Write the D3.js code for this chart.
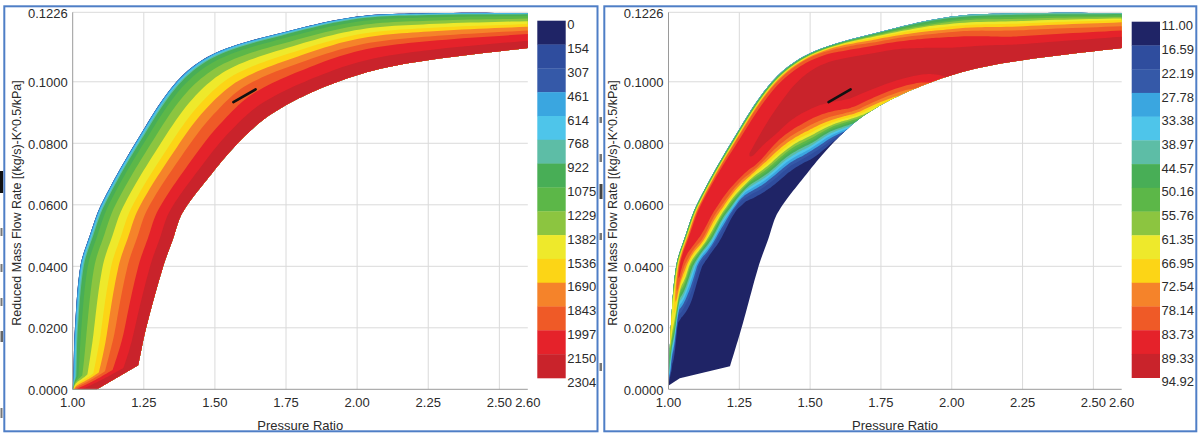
<!DOCTYPE html>
<html>
<head>
<meta charset="utf-8">
<script src="https://cdn.jsdelivr.net/npm/d3@7"></script>
<style>
  body { margin: 0; background: #fff; }
  svg { display: block; font-family: "Liberation Sans", Arial, sans-serif; }
</style>
</head>
<body>
<div id="chart"></div>
<script>
// axis ticks
var prTicks = [1.00, 1.25, 1.50, 1.75, 2.00, 2.25, 2.50, 2.60];
var flowTicks = [0.0000, 0.0200, 0.0400, 0.0600, 0.0800, 0.1000, 0.1226];

// colour scale levels (legend labels)
var speedLevels = [0, 154, 307, 461, 614, 768, 922, 1075, 1229, 1382, 1536, 1690, 1843, 1997, 2150, 2304];
var effLevels = [11.00, 16.59, 22.19, 27.78, 33.38, 38.97, 44.57, 50.16, 55.76, 61.35, 66.95, 72.54, 78.14, 83.73, 89.33, 94.92];
var bandColors = ["#1f2466", "#2f4d9e", "#3559a8", "#3aa6e0", "#4ec5ea", "#5dbda6", "#48ae56", "#5cb748",
                  "#8cc540", "#eee92b", "#fcd516", "#f5832a", "#ef5a27", "#e5222a", "#c9232b"];

// cross sections through the map: surge edge point -> choke edge point
var surgePR   = [1.000, 1.002, 1.008, 1.027, 1.060, 1.100, 1.220, 1.365, 1.500, 1.750, 2.000, 2.250, 2.600];
var surgeFlow = [0.0000, 0.0040, 0.0200, 0.0400, 0.0500, 0.0600, 0.0800, 0.1000, 0.1093, 0.1163, 0.1212, 0.1223, 0.1224];
var chokePR   = [1.085, 1.230, 1.258, 1.318, 1.352, 1.385, 1.470, 1.580, 1.690, 1.850, 2.050, 2.260, 2.600];
var chokeFlow = [0.0000, 0.0078, 0.0200, 0.0400, 0.0488, 0.0573, 0.0680, 0.0800, 0.0890, 0.0970, 0.1035, 0.1072, 0.1110];
// efficiency map is cut a little differently at the bottom
var effBottomSurgePR = [1.000, 1.002];
var effBottomSurgeFlow = [0.0012, 0.0060];
var effBottomChokePR = [1.040, 1.217];
var effBottomChokeFlow = [0.0036, 0.0075];

// position across each section (0 = surge edge, 1 = choke edge)
var sLevels = [0, 0.05, 0.1, 0.2, 0.3, 0.4, 0.5, 0.6, 0.7, 0.8, 0.9, 1.0];

// speed read along each section
var speedGrid = [
  [440, 1650, 1900, 2050, 2130, 2170, 2210, 2240, 2260, 2280, 2290, 2300],
  [440,  950, 1150, 1350, 1520, 1700, 1860, 1990, 2090, 2170, 2230, 2300],
  [440,  980, 1100, 1285, 1424, 1580, 1754, 1879, 1997, 2106, 2208, 2300],
  [440,  980, 1100, 1285, 1424, 1580, 1754, 1879, 1997, 2106, 2208, 2300],
  [440,  980, 1100, 1285, 1424, 1580, 1754, 1879, 1997, 2106, 2208, 2300],
  [440,  980, 1100, 1285, 1424, 1580, 1754, 1879, 1997, 2106, 2208, 2300],
  [440,  980, 1100, 1285, 1424, 1580, 1754, 1879, 1997, 2106, 2208, 2300],
  [440,  980, 1100, 1285, 1424, 1580, 1754, 1879, 1997, 2106, 2208, 2300],
  [440,  980, 1100, 1295, 1450, 1620, 1790, 1920, 2030, 2125, 2215, 2300],
  [440,  980, 1100, 1305, 1475, 1660, 1815, 1960, 2055, 2140, 2222, 2300],
  [440,  980, 1100, 1316, 1502, 1704, 1843, 1997, 2078, 2157, 2230, 2300],
  [440,  980, 1100, 1316, 1502, 1704, 1843, 1997, 2078, 2157, 2230, 2300],
  [440,  980, 1100, 1316, 1502, 1704, 1843, 1997, 2078, 2157, 2230, 2300]
];

// efficiency read along each section
var effGrid = [
  [13, 12, 12, 12, 12, 12, 12, 12, 12, 12, 12, 12],
  [45, 14, 12, 12, 12, 12, 12, 12, 12, 12, 12, 12],
  [70, 55, 14, 12, 12, 12, 12, 12, 12, 12, 12, 12],
  [50, 86, 78, 45, 18, 12, 11.5, 11.5, 11.5, 11.5, 11.5, 11.5],
  [47, 85, 87, 82, 55, 22, 12, 11.5, 11.5, 11.5, 11.5, 11.5],
  [45, 84, 88, 87, 77, 48, 17, 12, 11.5, 11.5, 11.5, 11.5],
  [42, 82, 86, 88.5, 89.5, 87, 72, 52, 30, 17, 12, 11.5],
  [40, 80, 86, 89, 90, 91, 89.5, 85, 76, 60, 35, 14],
  [40, 78, 85, 89.5, 91, 92, 92, 91.5, 90, 87, 78, 58],
  [41, 60, 72, 84, 89, 91, 92, 92, 91, 89, 84, 76],
  [42, 48, 58, 70, 80, 85, 88, 90, 91.5, 92.5, 93, 93],
  [40, 47, 54, 65, 74, 80, 84, 88, 90, 92, 93, 93.5],
  [40, 47, 54, 67, 74.5, 79, 83.7, 87, 89.8, 91.5, 92.5, 93]
];

// operating line marker
var markPR = [1.565, 1.643];
var markFlow = [0.0934, 0.0975];

// scraps of the surrounding page that show at the picture edges: [x, y, w, h, colour]
var edgeMarks = [
  [0, 171, 3.2, 22, "#111"],
  [0.5, 228, 2, 8, "#777"], [0.5, 264, 2, 8, "#777"], [0.5, 298, 2, 8, "#777"],
  [0.5, 331, 2.5, 11, "#666"], [0.5, 408, 2, 10, "#777"],
  [599.5, 117, 2.5, 6, "#777"], [599.5, 154, 2.5, 8, "#777"], [599.5, 184, 3, 15, "#444"],
  [599.5, 233, 2.5, 7, "#777"], [599.5, 363, 2.5, 8, "#777"]
];

var width = 1198, height = 433;
var svg = d3.select("#chart").append("svg")
    .attr("width", width)
    .attr("height", height);

svg.selectAll(".scrap").data(edgeMarks).enter().append("rect")
  .attr("x", function(d) { return d[0]; }).attr("y", function(d) { return d[1]; })
  .attr("width", function(d) { return d[2]; }).attr("height", function(d) { return d[3]; })
  .attr("fill", function(d) { return d[4]; });

var panels = [
  {frame: [4.3, 6.3, 597.5, 431.3], plotX: [72.7, 527.8], cbX: [537.3, 565.7], cbY: [20.7, 378],
   yTitleX: 16.7, grid: speedGrid, levels: speedLevels, fmt: d3.format("d"),
   sPR: surgePR, sFlow: surgeFlow, cPR: chokePR, cFlow: chokeFlow},
  {frame: [604.3, 6.3, 1196.3, 431.3], plotX: [668.5, 1121.7], cbX: [1131.7, 1160], cbY: [21.7, 377.7],
   yTitleX: 612.5, grid: effGrid, levels: effLevels, fmt: d3.format(".2f"),
   sPR: effBottomSurgePR.concat(surgePR.slice(2)), sFlow: effBottomSurgeFlow.concat(surgeFlow.slice(2)),
   cPR: effBottomChokePR.concat(chokePR.slice(2)), cFlow: effBottomChokeFlow.concat(chokeFlow.slice(2))}
];

var FINE = 6; // sub-steps between read values when contouring

function clamp(v, a, b) { return Math.max(a, Math.min(b, v)); }

// cubic hermite through points (chord weighted tangents), one-sided at ends and corners
function hermite(pts, corners) {
  var n = pts.length, mIn = [], mOut = [];
  for (var i = 0; i < n; i++) {
    var prev = pts[Math.max(0, i - 1)], next = pts[Math.min(n - 1, i + 1)], p = pts[i];
    if (i === 0 || i === n - 1 || corners.indexOf(i) >= 0) {
      mIn[i] = [p[0] - prev[0], p[1] - prev[1]];
      mOut[i] = [next[0] - p[0], next[1] - p[1]];
      if (i === 0) mIn[i] = mOut[i];
      if (i === n - 1) mOut[i] = mIn[i];
    } else {
      var d0 = Math.hypot(p[0] - prev[0], p[1] - prev[1]), d1 = Math.hypot(next[0] - p[0], next[1] - p[1]);
      var dx = next[0] - prev[0], dy = next[1] - prev[1];
      mIn[i] = [dx * d0 / (d0 + d1), dy * d0 / (d0 + d1)];
      mOut[i] = [dx * d1 / (d0 + d1), dy * d1 / (d0 + d1)];
    }
  }
  return function(t) {
    var i = Math.min(Math.floor(t), n - 2), u = t - i, u2 = u * u, u3 = u2 * u;
    var h00 = 2 * u3 - 3 * u2 + 1, h10 = u3 - 2 * u2 + u, h01 = -2 * u3 + 3 * u2, h11 = u3 - u2;
    var a = pts[i], b = pts[i + 1], ma = mOut[i], mb = mIn[i + 1];
    return [h00 * a[0] + h10 * ma[0] + h01 * b[0] + h11 * mb[0],
            h00 * a[1] + h10 * ma[1] + h01 * b[1] + h11 * mb[1]];
  };
}

// monotone cubic refinement of a row of read values (no overshoot)
function refine(ys, f) {
  var n = ys.length, d = [], m = [], out = [];
  for (var i = 0; i < n - 1; i++) d[i] = ys[i + 1] - ys[i];
  m[0] = d[0]; m[n - 1] = d[n - 2];
  for (i = 1; i < n - 1; i++) m[i] = d[i - 1] * d[i] <= 0 ? 0 : 2 / (1 / d[i - 1] + 1 / d[i]);
  for (i = 0; i < n - 1; i++) {
    for (var k = 0; k < f; k++) {
      var u = k / f, u2 = u * u, u3 = u2 * u;
      out.push((2 * u3 - 3 * u2 + 1) * ys[i] + (u3 - 2 * u2 + u) * m[i] +
               (-2 * u3 + 3 * u2) * ys[i + 1] + (u3 - u2) * m[i + 1]);
    }
  }
  out.push(ys[n - 1]);
  return out;
}

panels.forEach(function(p) {
  var g = svg.append("g");

  var x = d3.scaleLinear().domain([1.0, 2.6]).range(p.plotX);
  var y = d3.scaleLinear().domain([0, 0.1226]).range([389.3, 12.3]);

  // panel frame
  g.append("rect")
    .attr("x", p.frame[0]).attr("y", p.frame[1])
    .attr("width", p.frame[2] - p.frame[0]).attr("height", p.frame[3] - p.frame[1])
    .attr("fill", "none").attr("stroke", "#4f7ec6").attr("stroke-width", 2);

  // grid
  g.selectAll(".vgrid").data(prTicks.filter(function(d) { return d > 1 && d < 2.6; }))
    .enter().append("line")
    .attr("x1", function(d) { return x(d); }).attr("x2", function(d) { return x(d); })
    .attr("y1", y(0)).attr("y2", y(0.1226))
    .attr("stroke", "#dadada").attr("stroke-width", 1);
  g.selectAll(".hgrid").data(flowTicks.filter(function(d) { return d > 0; }))
    .enter().append("line")
    .attr("x1", x(1.0)).attr("x2", x(2.6))
    .attr("y1", function(d) { return y(d); }).attr("y2", function(d) { return y(d); })
    .attr("stroke", "#dadada").attr("stroke-width", 1);

  // contour bands: refine the section table, then d3.contours on it
  var across = p.grid.map(function(row) { return refine(row, FINE); });
  var ns = across[0].length, cols = [];
  for (var k = 0; k < ns; k++) cols.push(refine(across.map(function(r) { return r[k]; }), FINE));
  var nt = cols[0].length;
  var px = nt + 2, py = ns + 2, values = new Array(px * py);
  for (var j = 0; j < py; j++) {
    for (var i = 0; i < px; i++) {
      values[j * px + i] = cols[clamp(j - 1, 0, ns - 1)][clamp(i - 1, 0, nt - 1)];
    }
  }
  var contours = d3.contours().size([px, py]).thresholds(p.levels.slice(0, -1))(values);

  var U = hermite(p.sPR.map(function(d, i) { return [x(d), y(p.sFlow[i])]; }), [1]);
  var L = hermite(p.cPR.map(function(d, i) { return [x(d), y(p.cFlow[i])]; }), [1]);
  var nS = sLevels.length;

  function place(q) {
    var t = clamp(q[0] - 1.5, 0, nt - 1) / FINE, kk = clamp(q[1] - 1.5, 0, ns - 1) / FINE;
    var k0 = Math.min(Math.floor(kk), nS - 2);
    var s = sLevels[k0] + (kk - k0) * (sLevels[k0 + 1] - sLevels[k0]);
    var u = U(t), l = L(t);
    return [u[0] + s * (l[0] - u[0]), u[1] + s * (l[1] - u[1])];
  }
  function ringPath(ring) {
    var pts = [];
    for (var k = 0; k < ring.length; k++) {
      var a = ring[k], b = ring[(k + 1) % ring.length];
      var n = Math.max(1, Math.ceil(Math.hypot(b[0] - a[0], b[1] - a[1]) * 1.5));
      for (var m = 0; m < n; m++) {
        pts.push(place([a[0] + (b[0] - a[0]) * m / n, a[1] + (b[1] - a[1]) * m / n]));
      }
    }
    return "M" + pts.map(function(q) { return q[0].toFixed(2) + "," + q[1].toFixed(2); }).join("L") + "Z";
  }

  g.append("g").selectAll("path")
    .data(contours)
    .enter().append("path")
    .attr("d", function(c) { return c.coordinates.map(function(poly) { return poly.map(ringPath).join(""); }).join(""); })
    .attr("fill", function(c, i) { return bandColors[i]; })
    .attr("fill-rule", "evenodd");

  // operating line
  g.append("line")
    .attr("x1", x(markPR[0])).attr("y1", y(markFlow[0]))
    .attr("x2", x(markPR[1])).attr("y2", y(markFlow[1]))
    .attr("stroke", "#111").attr("stroke-width", 2.6).attr("stroke-linecap", "round");

  // axis lines
  g.append("line").attr("x1", x(1.0)).attr("x2", x(1.0)).attr("y1", y(0)).attr("y2", y(0.1226))
    .attr("stroke", "#9a9a9a");
  g.append("line").attr("x1", x(1.0)).attr("x2", x(2.6)).attr("y1", y(0)).attr("y2", y(0))
    .attr("stroke", "#9a9a9a");

  // tick labels
  g.selectAll(".xt").data(prTicks).enter().append("text")
    .attr("x", function(d) { return x(d); }).attr("y", 407.3)
    .attr("text-anchor", "middle").attr("font-size", 13).attr("fill", "#2b2b2b")
    .text(d3.format(".2f"));
  g.selectAll(".yt").data(flowTicks).enter().append("text")
    .attr("x", p.plotX[0] - 5).attr("y", function(d) { return y(d) + 5.5; })
    .attr("text-anchor", "end").attr("font-size", 13).attr("fill", "#2b2b2b")
    .text(d3.format(".4f"));

  // axis titles
  g.append("text")
    .attr("x", (p.plotX[0] + p.plotX[1]) / 2).attr("y", 429.5)
    .attr("text-anchor", "middle").attr("font-size", 13).attr("fill", "#2b2b2b")
    .text("Pressure Ratio");
  g.append("text")
    .attr("transform", "translate(" + p.yTitleX + ",203) rotate(-90)")
    .attr("text-anchor", "middle").attr("dominant-baseline", "central")
    .attr("font-size", 12.5).attr("fill", "#2b2b2b")
    .text("Reduced Mass Flow Rate [(kg/s)-K^0.5/kPa]");

  // colour bar
  var cb = d3.scaleLinear().domain([0, bandColors.length]).range(p.cbY);
  g.selectAll(".cb").data(bandColors).enter().append("rect")
    .attr("x", p.cbX[0]).attr("width", p.cbX[1] - p.cbX[0])
    .attr("y", function(d, i) { return cb(i); })
    .attr("height", function(d, i) { return cb(i + 1) - cb(i) + 0.3; })
    .attr("fill", function(d) { return d; });
  g.selectAll(".cbl").data(p.levels).enter().append("text")
    .attr("x", p.cbX[1] + 1.5)
    .attr("y", function(d, i) { return cb(i) + 8.6; })
    .attr("font-size", 13).attr("fill", "#2b2b2b")
    .text(function(d) { return p.fmt(d); });
});
</script>
</body>
</html>
